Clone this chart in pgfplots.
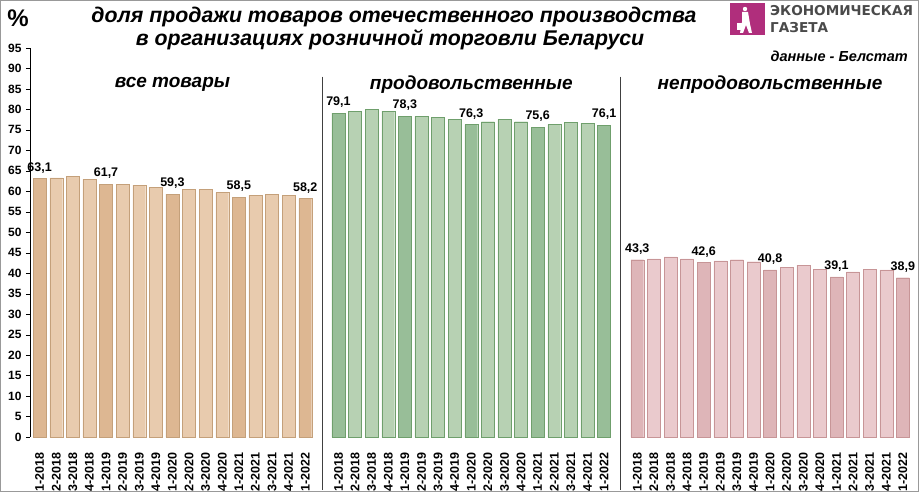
\documentclass[border=0pt]{standalone}
\usepackage{pgfplots}
\pgfplotsset{compat=1.18}
\usepackage{fontspec}
\setmainfont{Liberation Sans}
\newfontfamily\logofont{DejaVu Sans}
\definecolor{aL}{HTML}{E8CBAE}\definecolor{aD}{HTML}{DDB792}\definecolor{aE}{HTML}{C4A07A}
\definecolor{bL}{HTML}{B7D1B3}\definecolor{bD}{HTML}{98BE98}\definecolor{bE}{HTML}{6F9F6C}
\definecolor{cL}{HTML}{EACACD}\definecolor{cD}{HTML}{DEB5B8}\definecolor{cE}{HTML}{C79597}
\definecolor{logo}{HTML}{B02E7C}
\definecolor{logotext}{HTML}{4A4A4A}
\begin{document}
\begin{tikzpicture}
\useasboundingbox (0pt,0pt) rectangle (919pt,-492pt);
\draw[draw=gray!80, line width=1pt] (0.5pt,-0.5pt) rectangle (918.5pt,-491.5pt);
\node[font=\bfseries\fontsize{24}{24}\selectfont] at (18pt,-18pt) {\%};
\node[font=\bfseries\itshape\fontsize{21.3}{21.3}\selectfont] at (394pt,-17pt) {доля продажи товаров отечественного производства};
\node[font=\bfseries\itshape\fontsize{21.3}{21.3}\selectfont] at (390pt,-40pt) {в организациях розничной торговли Беларуси};
% logo
\fill[logo] (730pt,-3pt) rectangle (765pt,-35pt);
\fill[white] (745pt,-9pt) circle (2.2pt);
\fill[white] (742pt,-12pt) -- (748pt,-12pt) -- (750pt,-24pt) -- (752pt,-33pt) -- (749pt,-33pt) -- (746pt,-25pt) -- (743pt,-33pt) -- (740pt,-33pt) -- (742pt,-22pt) -- cycle;
\fill[white] (737pt,-23pt) rectangle (742pt,-30pt);
\node[anchor=west, font=\logofont\bfseries\fontsize{13.6}{13.6}\selectfont, text=logotext, inner sep=0pt] at (770pt,-11pt) {ЭКОНОМИЧЕСКАЯ};
\node[anchor=west, font=\logofont\bfseries\fontsize{13.6}{13.6}\selectfont, text=logotext, inner sep=0pt] at (770pt,-28pt) {ГАЗЕТА};
\node[anchor=east, font=\bfseries\itshape\fontsize{14.5}{14.5}\selectfont, inner sep=0pt] at (908pt,-56pt) {данные - Белстат};
\begin{axis}[
  at={(30pt,-437pt)}, anchor=south west,
  scale only axis, width=885pt, height=389pt,
  xmin=-0.58, xmax=52.73, ymin=0, ymax=95,
  axis y line*=left, axis x line*=bottom,
  x axis line style={draw=none},
  axis line style={-},
  ytick={0,5,...,95},
  yticklabel style={font=\bfseries\fontsize{12}{12}\selectfont, xshift=-1pt},
  /pgf/number format/assume math mode=true,
  ytick style={draw=black}, tick align=outside, major tick length=4pt,
  xtick={0,1,2,3,4,5,6,7,8,9,10,11,12,13,14,15,16,18,19,20,21,22,23,24,25,26,27,28,29,30,31,32,33,34,36,37,38,39,40,41,42,43,44,45,46,47,48,49,50,51,52},
  xticklabels={1-2018,2-2018,3-2018,4-2018,1-2019,2-2019,3-2019,4-2019,1-2020,2-2020,3-2020,4-2020,1-2021,2-2021,3-2021,4-2021,1-2022,
               1-2018,2-2018,3-2018,4-2018,1-2019,2-2019,3-2019,4-2019,1-2020,2-2020,3-2020,4-2020,1-2021,2-2021,3-2021,4-2021,1-2022,
               1-2018,2-2018,3-2018,4-2018,1-2019,2-2019,3-2019,4-2019,1-2020,2-2020,3-2020,4-2020,1-2021,2-2021,3-2021,4-2021,1-2022},
  x tick style={draw=none},
  xticklabel shift=11pt,
  xticklabel style={rotate=90, anchor=east, font=\bfseries\fontsize{12.5}{12.5}\selectfont, inner sep=0pt},
  clip=false,
  ybar, bar width=0.78, bar shift=0pt,
  nodes near coords style={font=\bfseries\fontsize{12.5}{12.5}\selectfont, yshift=2pt},
]
% group 1
\addplot[fill=aL, draw=aE] coordinates {(1,63.3)(2,63.6)(3,62.9)(5,61.7)(6,61.5)(7,60.9)(9,60.5)(10,60.5)(11,59.7)(13,59.1)(14,59.3)(15,59.1)};
\addplot[fill=aD, draw=aE, nodes near coords={\pgfmathprintnumber[assume math mode=true,fixed,fixed zerofill,precision=1,use comma]{\pgfplotspointmeta}}] coordinates {(0,63.1)(4,61.7)(8,59.3)(12,58.5)(16,58.2)};
% group 2
\addplot[fill=bL, draw=bE] coordinates {(19,79.6)(20,80.1)(21,79.6)(23,78.3)(24,78.1)(25,77.6)(27,77.0)(28,77.6)(29,77.0)(31,76.3)(32,76.8)(33,76.6)};
\addplot[fill=bD, draw=bE, nodes near coords={\pgfmathprintnumber[assume math mode=true,fixed,fixed zerofill,precision=1,use comma]{\pgfplotspointmeta}}] coordinates {(18,79.1)(22,78.3)(26,76.3)(30,75.6)(34,76.1)};
% group 3
\addplot[fill=cL, draw=cE] coordinates {(37,43.5)(38,44.0)(39,43.5)(41,43.0)(42,43.3)(43,42.8)(45,41.5)(46,42.0)(47,41.0)(49,40.3)(50,41.0)(51,40.8)};
\addplot[fill=cD, draw=cE, nodes near coords={\pgfmathprintnumber[assume math mode=true,fixed,fixed zerofill,precision=1,use comma]{\pgfplotspointmeta}}] coordinates {(36,43.3)(40,42.6)(44,40.8)(48,39.1)(52,38.9)};
% separators
\draw[black!75] (axis cs:17,88) -- (axis cs:17,-13);
\draw[black!75] (axis cs:35,88) -- (axis cs:35,-13);
\node[font=\bfseries\itshape\fontsize{19}{19}\selectfont] at (axis cs:8,86) {все товары};
\node[font=\bfseries\itshape\fontsize{19}{19}\selectfont] at (axis cs:26,86) {продовольственные};
\node[font=\bfseries\itshape\fontsize{19}{19}\selectfont] at (axis cs:44,86) {непродовольственные};
\end{axis}
\end{tikzpicture}
\end{document}
